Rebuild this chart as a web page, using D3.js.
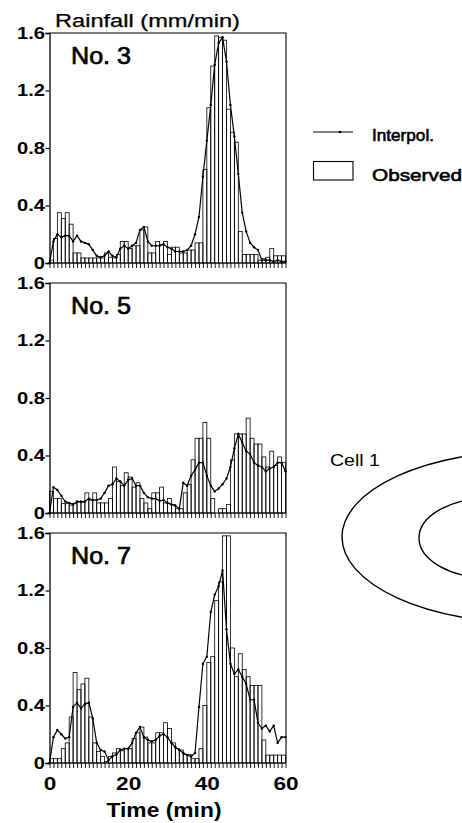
<!DOCTYPE html>
<html>
<head>
<meta charset="utf-8">
<script src="https://cdn.jsdelivr.net/npm/d3@7"></script>
<style>
  body { margin: 0; background: #fff; }
  svg { display: block; }
  text { font-family: "Liberation Sans", Arial, Helvetica, sans-serif; fill: #000; }
</style>
</head>
<body>
<svg id="chart" width="462" height="823"></svg>
<script>
// one observed bar per minute (bar i covers minute i..i+1), interpolated value at each whole minute 0..60
const gaugeNames = ["No. 3", "No. 5", "No. 7"];
const yTicks = [0, 0.4, 0.8, 1.2, 1.6];
const xLabels = [0, 20, 40, 60];

const observed3 = [0.02, 0.17, 0.35, 0.31, 0.35, 0.27, 0.07, 0.07, 0.035, 0.035,
  0.035, 0.035, 0.035, 0.035, 0.07, 0.04, 0.035, 0.06, 0.15, 0.15,
  0.1, 0.12, 0.12, 0.23, 0.25, 0.07, 0.07, 0.15, 0.13, 0.15,
  0.06, 0.11, 0.11, 0.07, 0.07, 0.09, 0.09, 0.14, 0.14, 0.65,
  1.08, 1.37, 1.58, 1.57, 1.55, 1.07, 0.91, 0.84, 0.22, 0.06,
  0.06, 0.06, 0.06, 0.02, 0.03, 0.04, 0.1, 0.05, 0.05, 0.05];
const interpol3 = [0, 0.15, 0.2, 0.18, 0.19, 0.19, 0.15, 0.19, 0.15, 0.14,
  0.13, 0.09, 0.05, 0.04, 0.05, 0.08, 0.05, 0.04, 0.1, 0.12,
  0.1, 0.12, 0.14, 0.23, 0.25, 0.15, 0.12, 0.12, 0.12, 0.13,
  0.11, 0.1, 0.08, 0.08, 0.08, 0.09, 0.12, 0.2, 0.32, 0.6,
  0.85, 1.1, 1.38, 1.53, 1.57, 1.4, 1.1, 0.88, 0.62, 0.35,
  0.22, 0.14, 0.11, 0.09, 0.02, 0.02, 0.02, 0.01, 0.02, 0.01, 0.01];

const observed5 = [0.15, 0.1, 0.1, 0.065, 0.065, 0.055, 0.065, 0.075, 0.075, 0.14,
  0.09, 0.14, 0.07, 0.07, 0.07, 0.1, 0.32, 0.22, 0.19, 0.28,
  0.25, 0.18, 0.21, 0.1, 0.07, 0.03, 0.14, 0.14, 0.18, 0.07,
  0.1, 0.06, 0.03, 0.03, 0.14, 0.2, 0.37, 0.52, 0.52, 0.63,
  0.52, 0.1, 0.0, 0.03, 0.03, 0.06, 0.37, 0.55, 0.55, 0.55,
  0.66, 0.52, 0.48, 0.48, 0.39, 0.32, 0.43, 0.33, 0.39, 0.35];
const interpol5 = [0, 0.18, 0.16, 0.12, 0.08, 0.07, 0.06, 0.08, 0.08, 0.08,
  0.1, 0.09, 0.09, 0.1, 0.14, 0.19, 0.2, 0.24, 0.22, 0.19,
  0.23, 0.24, 0.19, 0.19, 0.14, 0.11, 0.1, 0.1, 0.085, 0.09,
  0.07, 0.06, 0.05, 0.03, 0.21, 0.19, 0.26, 0.3, 0.35, 0.35,
  0.26, 0.19, 0.15, 0.17, 0.2, 0.24, 0.32, 0.45, 0.55, 0.49,
  0.43, 0.41, 0.35, 0.33, 0.32, 0.29, 0.31, 0.32, 0.35, 0.35, 0.29];

const observed7 = [0.03, 0.03, 0.03, 0.1, 0.14, 0.32, 0.63, 0.51, 0.55, 0.59,
  0.32, 0.14, 0.08, 0.045, 0.01, 0.045, 0.07, 0.1, 0.085, 0.1,
  0.1, 0.17, 0.21, 0.25, 0.18, 0.14, 0.14, 0.21, 0.21, 0.28,
  0.24, 0.14, 0.1, 0.09, 0.06, 0.06, 0.03, 0.03, 0.1, 0.4,
  0.7, 0.74, 1.13, 1.26, 1.58, 1.58, 0.8, 0.6, 0.76, 0.65,
  0.6, 0.54, 0.54, 0.54, 0.16, 0.055, 0.055, 0.055, 0.055, 0.055];
const interpol7 = [0, 0.18, 0.23, 0.2, 0.17, 0.18, 0.39, 0.42, 0.38, 0.41,
  0.42, 0.31, 0.14, 0.09, 0.08, 0.02, 0.045, 0.06, 0.09, 0.1,
  0.1, 0.14, 0.21, 0.25, 0.18, 0.16, 0.15, 0.16, 0.19, 0.2,
  0.18, 0.14, 0.11, 0.09, 0.07, 0.055, 0.045, 0.07, 0.39, 0.69,
  0.74, 1.05, 1.17, 1.23, 1.34, 0.93, 0.69, 0.62, 0.65, 0.6,
  0.55, 0.44, 0.44, 0.28, 0.24, 0.26, 0.22, 0.26, 0.14, 0.18, 0.18];

const observedSeries = [observed3, observed5, observed7];
const interpolSeries = [interpol3, interpol5, interpol7];

const svg = d3.select("#chart");
const panelTops = [33, 283, 533];
const panelHeight = 230;
const frameRight = 286;

const x = d3.scaleLinear().domain([0, 60]).range([49.5, 285.5]);

// widen a text about its own anchor point (the scan is stretched horizontally)
function stretch(sel, sx) {
  sel.attr("transform", function() {
    const ax = +d3.select(this).attr("x") || 0;
    return `translate(${ax},0) scale(${sx},1) translate(${-ax},0)`;
  });
}

// medium weight: regular glyphs with a thin outline
function medium(sel, w) {
  sel.attr("font-weight", "normal")
    .attr("stroke", "#000")
    .attr("stroke-width", w);
}

gaugeNames.forEach((name, p) => {
  const top = panelTops[p];
  const y = d3.scaleLinear().domain([0, 1.6]).range([top + panelHeight, top]);
  const g = svg.append("g");

  // observed bars
  g.selectAll("rect.bar").data(observedSeries[p]).join("rect")
    .attr("class", "bar")
    .attr("x", (d, i) => x(i))
    .attr("width", x(1) - x(0))
    .attr("y", d => y(d))
    .attr("height", d => y(0) - y(d))
    .attr("fill", "none")
    .attr("stroke", "#000")
    .attr("stroke-width", 0.8);

  // interpolated line with small dots
  const line = d3.line().x((d, i) => x(i)).y(d => y(d));
  g.append("path")
    .datum(interpolSeries[p])
    .attr("d", line)
    .attr("fill", "none")
    .attr("stroke", "#000")
    .attr("stroke-width", 1.2);
  g.selectAll("circle.pt").data(interpolSeries[p]).join("circle")
    .attr("class", "pt")
    .attr("cx", (d, i) => x(i))
    .attr("cy", d => y(d))
    .attr("r", 1.2)
    .attr("fill", "#000");

  // frame top and right
  g.append("path")
    .attr("d", `M${x(0)},${top}H${frameRight}V${top + panelHeight}`)
    .attr("fill", "none")
    .attr("stroke", "#000")
    .attr("stroke-width", 1.1);

  const yAxis = g.append("g")
    .attr("transform", `translate(${x(0)},0)`)
    .call(d3.axisLeft(y).tickValues(yTicks).tickSize(4).tickPadding(0.5)
      .tickFormat(d => d === 0 ? "0" : d3.format(".1f")(d)));
  yAxis.select(".domain").attr("stroke-width", 1.3);
  yAxis.selectAll(".tick line").attr("stroke-width", 1.2);
  yAxis.selectAll("text")
    .attr("font-family", "Liberation Sans, Arial, sans-serif")
    .attr("font-size", 16.8)
    .attr("font-weight", "bold")
    .call(stretch, 1.2);

  const xAxis = g.append("g")
    .attr("transform", `translate(0,${top + panelHeight})`)
    .call(d3.axisBottom(x).tickValues(d3.range(0, 61)).tickSize(5).tickPadding(8.5)
      .tickFormat(d => (p === 2 && xLabels.includes(d)) ? d : ""));
  xAxis.select(".domain").attr("stroke-width", 1.2).attr("d", `M${x(0)},0H${frameRight}`);
  xAxis.selectAll(".tick line").attr("stroke-width", 0.9);
  xAxis.selectAll("text")
    .attr("font-family", "Liberation Sans, Arial, sans-serif")
    .attr("font-size", 18.6)
    .attr("font-weight", "bold")
    .call(stretch, 1.22);

  g.append("text")
    .attr("x", 71)
    .attr("y", top + 31)
    .attr("font-size", 24)
    .attr("textLength", 60)
    .attr("lengthAdjust", "spacingAndGlyphs")
    .call(medium, 0.7)
    .text(name);
});

svg.append("text")
  .attr("x", 55)
  .attr("y", 27)
  .attr("font-size", 17.5)
  .attr("textLength", 185)
  .attr("lengthAdjust", "spacingAndGlyphs")
  .call(medium, 0.25)
  .text("Rainfall (mm/min)");

svg.append("text")
  .attr("x", 164)
  .attr("y", 816.5)
  .attr("text-anchor", "middle")
  .attr("font-size", 21)
  .attr("font-weight", "bold")
  .attr("textLength", 115)
  .attr("lengthAdjust", "spacingAndGlyphs")
  .text("Time (min)");

// legend
const legend = svg.append("g");
legend.append("line")
  .attr("x1", 313).attr("x2", 353).attr("y1", 132).attr("y2", 132)
  .attr("stroke", "#000").attr("stroke-width", 1.1);
legend.append("circle").attr("cx", 340).attr("cy", 132).attr("r", 1.3).attr("fill", "#000");
legend.append("text").attr("x", 372).attr("y", 140.5)
  .attr("font-size", 17)
  .attr("textLength", 62).attr("lengthAdjust", "spacingAndGlyphs")
  .call(medium, 0.6)
  .text("Interpol.");
legend.append("rect")
  .attr("x", 313.5).attr("y", 161.5).attr("width", 39.5).attr("height", 18.5)
  .attr("fill", "none").attr("stroke", "#000").attr("stroke-width", 1.1);
legend.append("text").attr("x", 372).attr("y", 181)
  .attr("font-size", 17)
  .attr("textLength", 90).attr("lengthAdjust", "spacingAndGlyphs")
  .call(medium, 0.6)
  .text("Observed");

// cell outline sketch on the right
const cellRings = [
  { cx: 530, cy: 537, rx: 188, ry: 86 },
  { cx: 490, cy: 538, rx: 71, ry: 40 }
];
svg.selectAll("ellipse.ring").data(cellRings).join("ellipse")
  .attr("class", "ring")
  .attr("cx", d => d.cx).attr("cy", d => d.cy)
  .attr("rx", d => d.rx).attr("ry", d => d.ry)
  .attr("fill", "none").attr("stroke", "#000").attr("stroke-width", 1.4);
svg.append("text")
  .attr("x", 330).attr("y", 466)
  .attr("font-family", "DejaVu Sans, sans-serif")
  .attr("font-size", 16)
  .attr("font-weight", 200)
  .attr("fill", "#444")
  .attr("textLength", 50)
  .attr("lengthAdjust", "spacingAndGlyphs")
  .text("Cell 1");
</script>
</body>
</html>
